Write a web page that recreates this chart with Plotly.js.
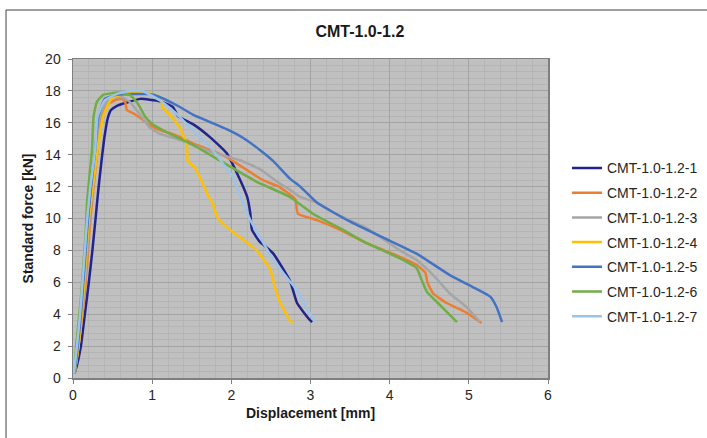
<!DOCTYPE html>
<html>
<head>
<meta charset="utf-8">
<script src="https://cdn.plot.ly/plotly-3.0.1.min.js"></script>
<style>html,body{margin:0;padding:0;background:#fff;}#chart{width:707px;height:438px;}</style>
</head>
<body>
<div id="chart"></div>
<script>
const seriesNames = ["CMT-1.0-1.2-1","CMT-1.0-1.2-2","CMT-1.0-1.2-3","CMT-1.0-1.2-4","CMT-1.0-1.2-5","CMT-1.0-1.2-6","CMT-1.0-1.2-7"];
const seriesColors = ["#23238C","#ED7D31","#A5A5A5","#FFC000","#4472C4","#70AD47","#9DC3E6"];

const x1 = [0.02,0.05,0.1,0.15,0.2,0.245,0.285,0.32,0.36,0.4,0.44,0.48,0.55,0.7,0.85,0.97,1.1,1.26,1.33,1.52,1.73,1.94,2.07,2.2,2.24,2.26,2.35,2.53,2.74,2.83,2.98,3.02];
const y1 = [0.3,0.8,2.0,4.0,6.0,8.0,10.0,11.8,13.6,15.2,16.3,16.8,17.05,17.3,17.5,17.45,17.35,17.0,16.4,15.9,15.1,14.1,12.85,11.35,10.3,9.3,8.6,7.8,6.1,4.7,3.7,3.5];

const x2 = [0.02,0.07,0.12,0.16,0.19,0.22,0.26,0.31,0.36,0.45,0.55,0.62,0.66,0.68,0.76,0.88,1.0,1.1,1.31,1.52,1.73,1.94,2.13,2.4,2.6,2.78,2.81,2.84,3.08,3.37,3.71,4.13,4.34,4.45,4.48,4.55,4.72,4.97,5.16];
const y2 = [0.3,2.0,4.0,6.0,8.0,10.0,12.0,14.3,16.4,17.2,17.45,17.5,17.3,16.8,16.6,16.2,15.75,15.55,15.2,14.7,14.3,13.85,13.25,12.4,12.0,11.35,11.2,10.3,9.9,9.3,8.45,7.6,7.1,6.6,5.95,5.3,4.7,4.1,3.45];

const x3 = [0.02,0.07,0.11,0.15,0.18,0.21,0.25,0.3,0.34,0.42,0.52,0.62,0.72,0.85,0.97,1.1,1.31,1.52,1.73,1.94,2.11,2.36,2.61,2.74,2.87,3.08,3.28,3.71,4.13,4.34,4.55,4.76,4.97,5.14];
const y3 = [0.3,2.0,4.0,6.0,8.0,10.0,12.0,14.3,16.4,17.3,17.6,17.6,17.3,16.5,15.7,15.3,15.0,14.6,14.2,13.9,13.65,13.1,12.2,11.8,11.35,11.0,10.4,9.4,8.0,7.4,6.45,5.3,4.45,3.5];

const x4 = [0.02,0.07,0.11,0.14,0.17,0.2,0.25,0.31,0.38,0.49,0.68,0.87,0.97,1.1,1.14,1.22,1.33,1.42,1.44,1.45,1.54,1.6,1.71,1.76,1.82,1.98,2.32,2.49,2.55,2.62,2.74,2.78];
const y4 = [0.3,2.0,4.0,6.0,8.0,10.0,12.0,14.3,16.4,17.55,17.85,17.9,17.85,17.6,16.9,16.5,15.85,14.9,14.5,13.6,13.2,12.6,11.4,11.0,10.1,9.3,8.0,6.8,5.7,4.7,3.6,3.5];

const x5 = [0.02,0.06,0.1,0.13,0.16,0.19,0.23,0.28,0.32,0.4,0.55,0.75,0.97,1.1,1.31,1.52,1.73,1.94,2.15,2.36,2.53,2.74,2.87,3.08,3.5,3.92,4.34,4.76,5.05,5.27,5.35,5.42];
const y5 = [0.3,2.0,4.0,6.0,8.0,10.0,12.0,14.3,16.4,17.5,17.75,17.8,17.8,17.6,17.1,16.5,16.05,15.6,15.05,14.3,13.6,12.5,12.0,11.0,9.8,8.8,7.8,6.45,5.7,5.1,4.45,3.5];

const x6 = [0.02,0.04,0.07,0.1,0.13,0.16,0.18,0.24,0.26,0.3,0.38,0.57,0.72,0.82,0.91,1.01,1.31,1.52,1.9,2.32,2.74,3.03,3.37,3.71,4.13,4.34,4.4,4.47,4.63,4.85];
const y6 = [0.3,2.0,3.5,5.0,7.0,9.1,11.2,14.3,16.4,17.3,17.75,17.9,17.75,17.2,16.4,15.9,15.1,14.6,13.5,12.3,11.35,10.3,9.4,8.45,7.5,6.9,6.2,5.4,4.6,3.5];

const x7 = [0.01,0.05,0.09,0.12,0.15,0.18,0.22,0.28,0.31,0.4,0.55,0.78,0.9,1.1,1.3,1.44,1.6,1.73,1.9,2.02,2.13,2.24,2.4,2.53,2.7,2.83,2.95,3.06];
const y7 = [0.3,2.0,4.0,6.0,8.0,10.0,12.0,14.3,16.4,17.4,17.8,18.05,17.95,17.4,16.6,15.9,15.1,14.5,13.4,12.6,11.2,9.9,8.5,7.4,6.3,5.5,4.4,3.5];

const xTickVals = [0,1,2,3,4,5,6];
const yTickVals = [0,2,4,6,8,10,12,14,16,18,20];

const xs = [x1,x2,x3,x4,x5,x6,x7];
const ys = [y1,y2,y3,y4,y5,y6,y7];

const FONT = '"Liberation Sans", Arial, sans-serif';
const traces = xs.map((xv,i)=>({
  type:'scatter', mode:'lines', x:xv, y:ys[i], name:seriesNames[i],
  legendgroup:'g'+i,
  line:{color:seriesColors[i], width:2.5, shape:'spline', smoothing:0.4}
}));

const layout = {
  width:707, height:438,
  margin:{l:73, r:159, t:59, b:60},
  paper_bgcolor:'#FFFFFF',
  plot_bgcolor:'#C0C0C0',
  font:{family:FONT, size:14, color:'#404040'},
  title:{text:'<b>CMT-1.0-1.2</b>', font:{family:FONT, size:16, color:'#1A1A1A'}, xref:'container', x:0.509, xanchor:'center', yref:'container', y:0.929, yanchor:'middle'},
  showlegend:true,
  legend:{xref:'container', yref:'container', x:0.802, xanchor:'left', y:0.652, yanchor:'top', bgcolor:'rgba(0,0,0,0)', font:{family:FONT, size:14, color:'#262626'}, tracegroupgap:3.5, traceorder:'grouped'},
  xaxis:{
    range:[0,6], tickvals:xTickVals, ticktext:xTickVals.map(String),
    showgrid:true, gridcolor:'#A3A3A3', gridwidth:1,
    minor:{dtick:0.2, showgrid:true, gridcolor:'#B5B5B5', gridwidth:1},
    zeroline:false, showline:true, linecolor:'#7F7F7F', linewidth:1.5, mirror:true,
    ticks:'outside', ticklen:4, tickcolor:'#7F7F7F',
    tickfont:{family:FONT, size:14, color:'#262626'},
    title:{text:'<b>Displacement [mm]</b>', font:{family:FONT, size:14, color:'#1A1A1A'}, standoff:6}
  },
  yaxis:{
    range:[0,20], tickvals:yTickVals, ticktext:yTickVals.map(String),
    showgrid:true, gridcolor:'#A3A3A3', gridwidth:1,
    minor:{dtick:0.4, showgrid:true, gridcolor:'#B5B5B5', gridwidth:1},
    zeroline:false, showline:true, linecolor:'#7F7F7F', linewidth:1.5, mirror:true,
    ticks:'outside', ticklen:4, tickcolor:'#7F7F7F', ticklabelstandoff:4,
    tickfont:{family:FONT, size:14, color:'#262626'},
    title:{text:'<b>Standard force [kN]</b>', font:{family:FONT, size:14, color:'#1A1A1A'}, standoff:8}
  },
  shapes:[
    {type:'line', xref:'paper', yref:'paper', x0:-0.141, x1:1.5, y0:1.1536, y1:1.1536, line:{color:'#404040', width:1}},
    {type:'line', xref:'paper', yref:'paper', x0:-0.141, x1:-0.141, y0:1.1536, y1:-0.3, line:{color:'#404040', width:1}}
  ]
};

Plotly.newPlot('chart', traces, layout, {staticPlot:true, displayModeBar:false});
</script>
</body>
</html>
